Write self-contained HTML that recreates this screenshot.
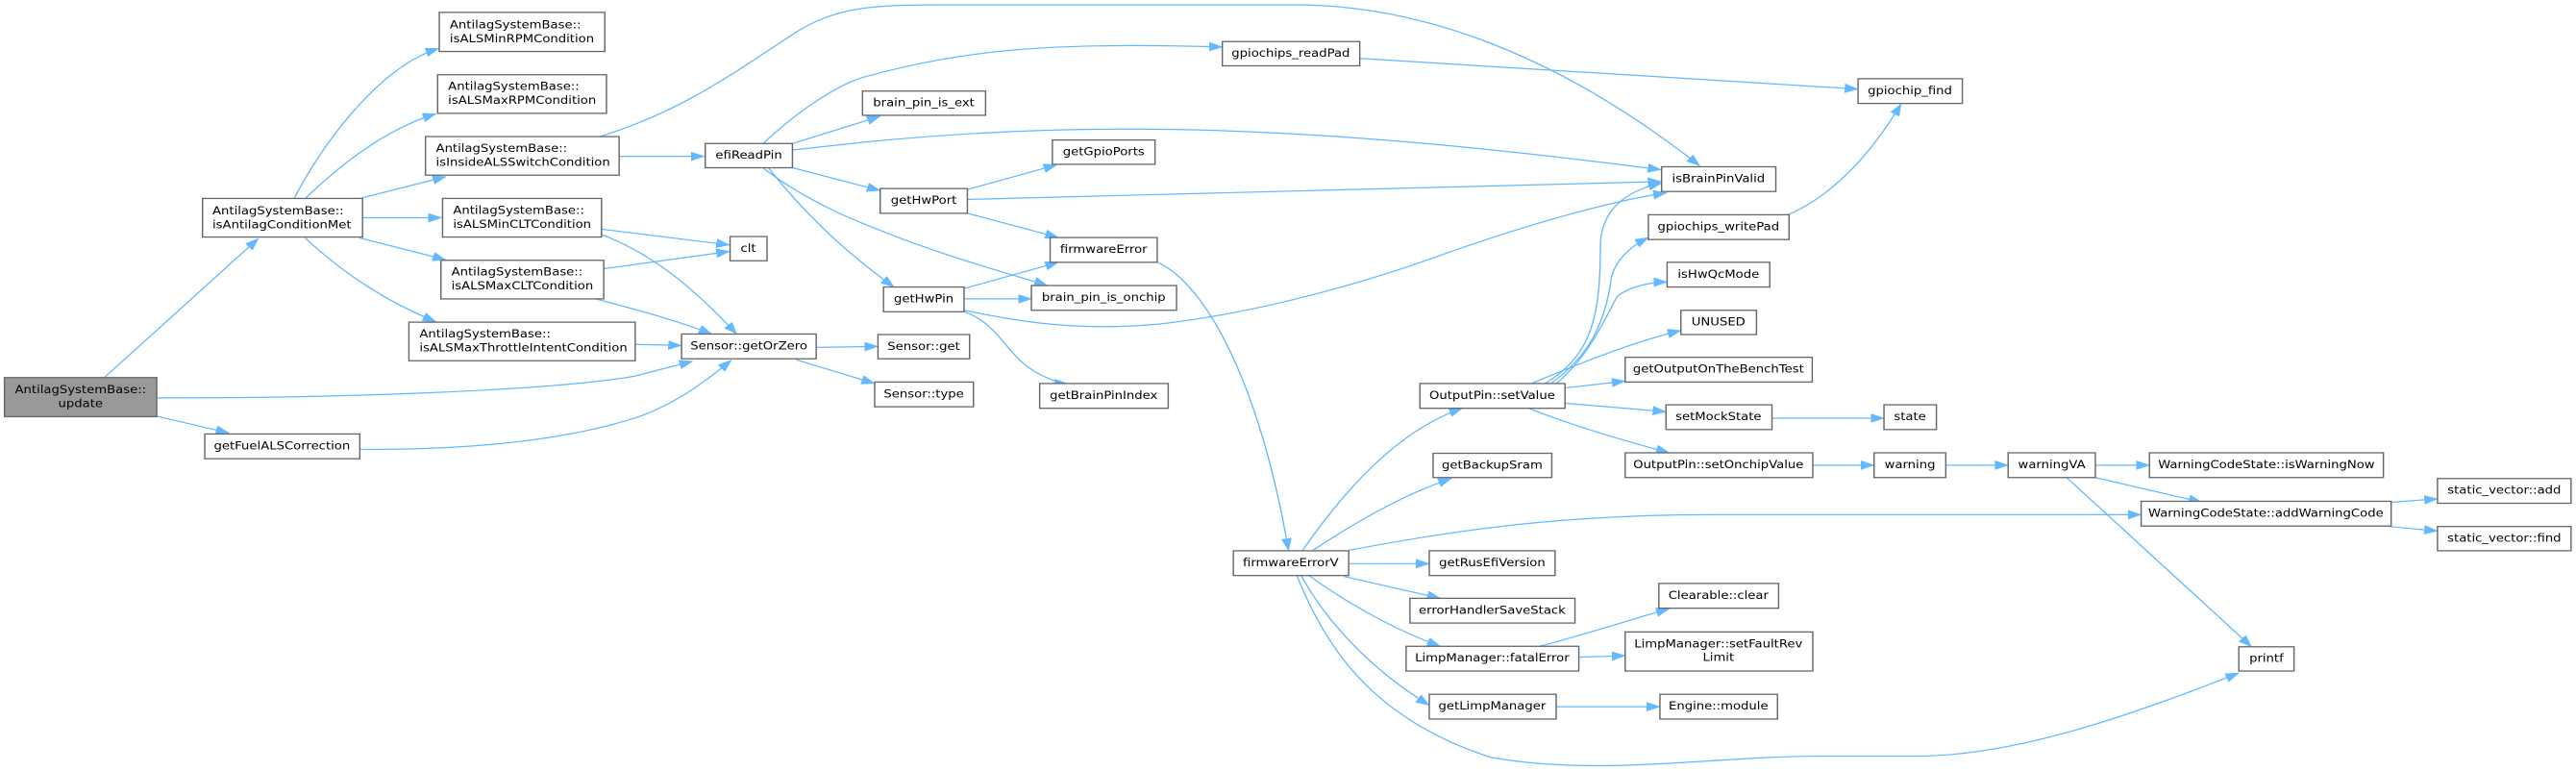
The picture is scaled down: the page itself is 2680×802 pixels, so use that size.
<!DOCTYPE html>
<html><head><meta charset="utf-8"><style>
html,body{margin:0;padding:0;background:#fff;}
svg{display:block;}
text{font-family:"DejaVu Sans","Liberation Sans",sans-serif;font-size:23px;fill:#000;}
.b{fill:#fff;stroke:#666;stroke-width:2.5;}
.e{fill:none;stroke:#63b8ff;stroke-width:2.4;marker-end:url(#a);}
</style></head><body>
<svg width="2680" height="802" viewBox="0 0 4668 1558" preserveAspectRatio="none" xmlns="http://www.w3.org/2000/svg">
<defs><marker id="a" markerUnits="userSpaceOnUse" markerWidth="26" markerHeight="20" refX="24" refY="9" orient="auto"><path d="M0,0 L24,9 L0,18 z" fill="#63b8ff" stroke="#63b8ff"/></marker></defs>
<g>
<path class="e" d="M190,762 L468,482"/>
<path class="e" d="M284,804 C600,805 1000,790 1150,760 L1255,730"/>
<path class="e" d="M284,841 L415,875"/>
<path class="e" d="M652,908 C900,910 1050,880 1150,845 C1230,815 1290,760 1325,728"/>
<path class="e" d="M533,401 C600,260 700,130 795,98"/>
<path class="e" d="M553,401 C620,330 700,260 790,230"/>
<path class="e" d="M652,401 L808,357"/>
<path class="e" d="M657,440 L800,440"/>
<path class="e" d="M652,481 L808,525"/>
<path class="e" d="M553,481 C620,550 700,610 790,650"/>
<path class="e" d="M1122,316 L1276,316"/>
<path class="e" d="M1087,276 C1250,220 1350,130 1450,60 C1520,15 1580,10 1700,10 L2350,10 C2550,10 2800,90 3080,335"/>
<path class="e" d="M1090,463 L1322,495"/>
<path class="e" d="M1090,474 C1200,520 1280,610 1335,675"/>
<path class="e" d="M1094,543 L1322,508"/>
<path class="e" d="M1080,604 C1150,625 1220,645 1290,675"/>
<path class="e" d="M1151,696 L1235,698"/>
<path class="e" d="M1479,702 L1591,700"/>
<path class="e" d="M1443,727 L1585,775"/>
<path class="e" d="M1383,290 C1450,220 1520,170 1568,155 C1750,100 1900,85 2215,95"/>
<path class="e" d="M1436,290 L1595,235"/>
<path class="e" d="M1436,303 C1500,295 1540,290 1568,287 C2000,240 2400,255 3010,343"/>
<path class="e" d="M1436,339 L1595,385"/>
<path class="e" d="M1393,340 C1450,420 1520,500 1620,580"/>
<path class="e" d="M1383,340 C1480,420 1560,450 1640,485 C1750,530 1850,560 1898,577"/>
<path class="e" d="M1753,383 L1915,333"/>
<path class="e" d="M1753,403 L3010,367"/>
<path class="e" d="M1753,431 L1918,480"/>
<path class="e" d="M1747,583 L1918,530"/>
<path class="e" d="M1747,604 L1869,604"/>
<path class="e" d="M1747,627 C1850,650 1950,670 2100,655 C2300,630 2500,560 2600,520 C2800,440 2950,400 3020,390"/>
<path class="e" d="M1747,630 C1800,650 1820,700 1850,730 C1880,760 1920,775 1935,775"/>
<path class="e" d="M2097,530 C2180,570 2280,760 2335,1112"/>
<path class="e" d="M2464,118 L3367,180"/>
<path class="e" d="M2360,1113 C2430,1000 2530,870 2650,825"/>
<path class="e" d="M2378,1113 C2450,1060 2540,1000 2630,967"/>
<path class="e" d="M2444,1112 C2600,1080 2800,1040 3100,1040 L3880,1040"/>
<path class="e" d="M2444,1139 L2590,1139"/>
<path class="e" d="M2436,1165 L2610,1209"/>
<path class="e" d="M2372,1163 C2430,1210 2520,1270 2610,1306"/>
<path class="e" d="M2358,1163 C2400,1250 2480,1350 2590,1425"/>
<path class="e" d="M2350,1163 C2400,1300 2480,1450 2700,1530 C2900,1570 3100,1528 3300,1528 L3470,1528 C3650,1528 3850,1450 4057,1360"/>
<path class="e" d="M2800,775 C2880,720 2900,650 2900,500 C2900,420 2950,385 3011,370"/>
<path class="e" d="M2810,775 C2880,720 2910,650 2920,560 C2930,520 2960,495 2987,480"/>
<path class="e" d="M2820,775 C2880,720 2910,640 2930,600 C2950,580 2990,570 3021,570"/>
<path class="e" d="M2775,775 C2850,740 2960,690 3046,668"/>
<path class="e" d="M2836,784 L2945,770"/>
<path class="e" d="M2836,815 L3019,832"/>
<path class="e" d="M2770,825 C2850,860 2940,890 3025,915"/>
<path class="e" d="M3240,434 C3310,400 3380,330 3445,210"/>
<path class="e" d="M3211,845 L3414,845"/>
<path class="e" d="M3285,940 L3396,940"/>
<path class="e" d="M3526,940 L3639,940"/>
<path class="e" d="M3797,940 L3895,940"/>
<path class="e" d="M3797,965 L3990,1015"/>
<path class="e" d="M3745,965 L4080,1307"/>
<path class="e" d="M4333,1015 L4417,1008"/>
<path class="e" d="M4320,1063 L4417,1073"/>
<path class="e" d="M2790,1306 C2880,1280 2960,1250 3025,1230"/>
<path class="e" d="M2861,1328 L2945,1325"/>
<path class="e" d="M2820,1428 L3008,1428"/>
</g>
<g>
<rect x="8" y="763" width="276" height="79" style="fill:#999;stroke:#666;stroke-width:2.5"/>
<text x="146" y="795" text-anchor="middle">AntilagSystemBase::</text><text x="146" y="823" text-anchor="middle">update</text>

<rect class="b" x="367" y="401" width="290" height="78"/>
<text x="385" y="433">AntilagSystemBase::</text><text x="385" y="461">isAntilagConditionMet</text>
<rect class="b" x="796" y="25" width="300" height="79"/>
<text x="815" y="57">AntilagSystemBase::</text><text x="815" y="85">isALSMinRPMCondition</text>
<rect class="b" x="793" y="151" width="306" height="78"/>
<text x="812" y="182">AntilagSystemBase::</text><text x="812" y="210">isALSMaxRPMCondition</text>
<rect class="b" x="771" y="276" width="351" height="78"/>
<text x="790" y="307">AntilagSystemBase::</text><text x="790" y="335">isInsideALSSwitchCondition</text>
<rect class="b" x="802" y="401" width="288" height="78"/>
<text x="821" y="432">AntilagSystemBase::</text><text x="821" y="460">isALSMinCLTCondition</text>
<rect class="b" x="799" y="526" width="295" height="78"/>
<text x="818" y="557">AntilagSystemBase::</text><text x="818" y="585">isALSMaxCLTCondition</text>
<rect class="b" x="741" y="651" width="410" height="78"/>
<text x="760" y="682">AntilagSystemBase::</text><text x="760" y="710">isALSMaxThrottleIntentCondition</text>
<rect class="b" x="371" y="877" width="281" height="50"/><text x="511" y="908" text-anchor="middle">getFuelALSCorrection</text>
<rect class="b" x="1278" y="290" width="158" height="49"/><text x="1357" y="321" text-anchor="middle">efiReadPin</text>
<rect class="b" x="1323" y="478" width="67" height="49"/><text x="1356" y="509" text-anchor="middle">clt</text>
<rect class="b" x="1235" y="675" width="244" height="50"/><text x="1357" y="706" text-anchor="middle">Sensor::getOrZero</text>

<rect class="b" x="1563" y="184" width="223" height="49"/><text x="1674" y="215" text-anchor="middle">brain_pin_is_ext</text>
<rect class="b" x="2215" y="84" width="249" height="49"/><text x="2339" y="115" text-anchor="middle">gpiochips_readPad</text>
<rect class="b" x="1907" y="283" width="186" height="49"/><text x="2000" y="314" text-anchor="middle">getGpioPorts</text>
<rect class="b" x="1595" y="381" width="158" height="50"/><text x="1674" y="412" text-anchor="middle">getHwPort</text>
<rect class="b" x="1903" y="480" width="194" height="50"/><text x="2000" y="511" text-anchor="middle">firmwareError</text>
<rect class="b" x="1601" y="580" width="146" height="50"/><text x="1674" y="611" text-anchor="middle">getHwPin</text>
<rect class="b" x="1869" y="577" width="263" height="50"/><text x="2000" y="608" text-anchor="middle">brain_pin_is_onchip</text>
<rect class="b" x="1591" y="676" width="166" height="49"/><text x="1674" y="707" text-anchor="middle">Sensor::get</text>
<rect class="b" x="1585" y="772" width="179" height="50"/><text x="1674" y="803" text-anchor="middle">Sensor::type</text>
<rect class="b" x="1884" y="775" width="233" height="50"/><text x="2000" y="806" text-anchor="middle">getBrainPinIndex</text>
<rect class="b" x="2235" y="1113" width="209" height="50"/><text x="2339" y="1144" text-anchor="middle">firmwareErrorV</text>
<rect class="b" x="2573" y="775" width="263" height="50"/><text x="2704" y="806" text-anchor="middle">OutputPin::setValue</text>
<rect class="b" x="2597" y="916" width="215" height="49"/><text x="2704" y="947" text-anchor="middle">getBackupSram</text>
<rect class="b" x="2590" y="1113" width="228" height="50"/><text x="2704" y="1144" text-anchor="middle">getRusEfiVersion</text>
<rect class="b" x="2555" y="1209" width="299" height="50"/><text x="2704" y="1240" text-anchor="middle">errorHandlerSaveStack</text>
<rect class="b" x="2548" y="1306" width="313" height="50"/><text x="2704" y="1337" text-anchor="middle">LimpManager::fatalError</text>
<rect class="b" x="2590" y="1403" width="230" height="50"/><text x="2704" y="1434" text-anchor="middle">getLimpManager</text>
<rect class="b" x="3011" y="337" width="207" height="50"/><text x="3114" y="368" text-anchor="middle">isBrainPinValid</text>
<rect class="b" x="2987" y="434" width="255" height="50"/><text x="3114" y="465" text-anchor="middle">gpiochips_writePad</text>
<rect class="b" x="3021" y="530" width="186" height="50"/><text x="3114" y="561" text-anchor="middle">isHwQcMode</text>
<rect class="b" x="3046" y="627" width="137" height="49"/><text x="3114" y="658" text-anchor="middle">UNUSED</text>
<rect class="b" x="2945" y="722" width="339" height="50"/><text x="3114" y="753" text-anchor="middle">getOutputOnTheBenchTest</text>
<rect class="b" x="3019" y="818" width="192" height="50"/><text x="3114" y="849" text-anchor="middle">setMockState</text>
<rect class="b" x="2945" y="915" width="340" height="50"/><text x="3114" y="946" text-anchor="middle">OutputPin::setOnchipValue</text>
<rect class="b" x="3006" y="1179" width="217" height="50"/><text x="3114" y="1210" text-anchor="middle">Clearable::clear</text>
<rect class="b" x="2945" y="1277" width="340" height="79"/>
<text x="3114" y="1308" text-anchor="middle">LimpManager::setFaultRev</text><text x="3114" y="1336" text-anchor="middle">Limit</text>
<rect class="b" x="3008" y="1403" width="213" height="50"/><text x="3114" y="1434" text-anchor="middle">Engine::module</text>

<rect class="b" x="3367" y="159" width="189" height="50"/><text x="3461" y="190" text-anchor="middle">gpiochip_find</text>
<rect class="b" x="3414" y="818" width="95" height="50"/><text x="3461" y="849" text-anchor="middle">state</text>
<rect class="b" x="3396" y="915" width="130" height="50"/><text x="3461" y="946" text-anchor="middle">warning</text>
<rect class="b" x="3639" y="915" width="158" height="50"/><text x="3718" y="946" text-anchor="middle">warningVA</text>
<rect class="b" x="3895" y="915" width="424" height="50"/><text x="4107" y="946" text-anchor="middle">WarningCodeState::isWarningNow</text>
<rect class="b" x="3880" y="1013" width="453" height="50"/><text x="4106" y="1044" text-anchor="middle">WarningCodeState::addWarningCode</text>
<rect class="b" x="4417" y="967" width="242" height="50"/><text x="4538" y="998" text-anchor="middle">static_vector::add</text>
<rect class="b" x="4417" y="1064" width="242" height="49"/><text x="4538" y="1095" text-anchor="middle">static_vector::find</text>
<rect class="b" x="4057" y="1307" width="100" height="49"/><text x="4107" y="1338" text-anchor="middle">printf</text>
</g>
</svg>
</body></html>
